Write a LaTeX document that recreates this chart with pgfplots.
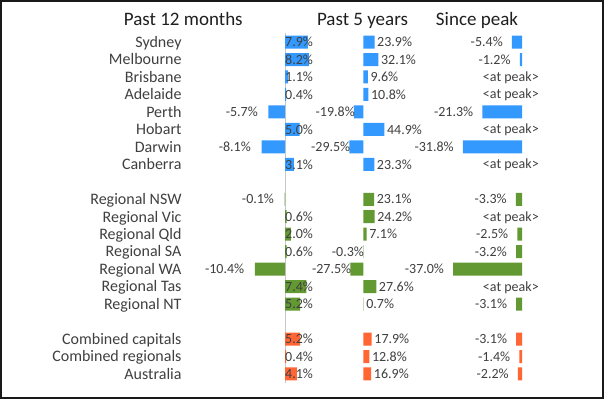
\documentclass[border=0pt]{standalone}
\usepackage{pgfplots}
\pgfplotsset{compat=1.18}
\usepackage{pgfplotstable}
\usepackage{fontspec}
\setmainfont{Carlito}
\definecolor{cblue}{RGB}{51,153,255}
\definecolor{cgreen}{RGB}{99,153,50}
\definecolor{corange}{RGB}{255,102,51}
\definecolor{txt}{RGB}{64,64,64}
\newcommand\catfont{\fontsize{16}{18}\selectfont}
\newcommand\valfont{\fontsize{14}{16}\selectfont}
\newcommand\titfont{\fontsize{19}{22}\selectfont}

\pgfplotstableread{
y m12 y5 pk
0 7.9 23.9 -5.4
1 8.2 32.1 -1.2
2 1.1 9.6 nan
3 0.4 10.8 nan
4 -5.7 -19.8 -21.3
5 5.0 44.9 nan
6 -8.1 -29.5 -31.8
7 3.1 23.3 nan
}\capitals
\pgfplotstableread{
y m12 y5 pk
9 -0.1 23.1 -3.3
10 0.6 24.2 nan
11 2.0 7.1 -2.5
12 0.6 -0.3 -3.2
13 -10.4 -27.5 -37.0
14 7.4 27.6 nan
15 5.2 0.7 -3.1
}\regional
\pgfplotstableread{
y m12 y5 pk
17 5.2 17.9 -3.1
18 0.4 12.8 -1.4
19 4.1 16.9 -2.2
}\combined

\pgfplotsset{
  panel/.style={clip=false, y dir=reverse, ymin=-0.5, ymax=19.5, y=17.47pt, anchor=north west},
  barplot/.style={xbar, bar width=13pt, bar shift=0pt, draw=none, fill=#1},
  lab/.style 2 args={
    nodes near coords={\pgfmathprintnumber[fixed,fixed zerofill,precision=1,assume math mode=true]{\pgfplotspointmeta}\%},
    nodes near coords align=horizontal,
    every node near coord/.append style={font=\valfont, text=txt, inner ysep=0pt, inner xsep=#2, xshift=#1}},
  labplot/.style={xbar, bar width=0pt, bar shift=0pt, draw=none, fill=none, forget plot},
}

\begin{document}
\begin{tikzpicture}
\useasboundingbox (0,0) rectangle (604pt,399pt);
\fill[white] (0,0) rectangle (604pt,399pt);

% Panel 1: past 12 months
\begin{axis}[panel, at={(183.5pt,365.7pt)}, x=2.9pt, xmin=-35, xmax=12,
  axis line style={draw=none}, tick style={draw=none}, xtick=\empty,
  ytick={0,1,2,3,4,5,6,7,9,10,11,12,13,14,15,17,18,19},
  yticklabels={Sydney,Melbourne,Brisbane,Adelaide,Perth,Hobart,Darwin,Canberra,Regional NSW,Regional Vic,Regional Qld,Regional SA,Regional WA,Regional Tas,Regional NT,Combined capitals,Combined regionals,Australia},
  yticklabel style={font=\catfont, text=txt, anchor=base east, inner sep=0pt, xshift=-1.8pt, yshift=-5.3pt}]
\draw[black!22, line width=0.8pt] (axis cs:0,-0.5) -- (axis cs:0,19.5);
\addplot[barplot=cblue] table[x=m12,y=y]{\capitals};
\addplot[barplot=cgreen] table[x=m12,y=y]{\regional};
\addplot[barplot=corange] table[x=m12,y=y]{\combined};
\addplot[labplot, point meta={\thisrow{m12}}, lab={-5.25pt}{5.25pt}] table[x expr={min(\thisrow{m12},0)},y=y]{\capitals};
\addplot[labplot, point meta={\thisrow{m12}}, lab={-5.25pt}{5.25pt}] table[x expr={min(\thisrow{m12},0)},y=y]{\regional};
\addplot[labplot, point meta={\thisrow{m12}}, lab={-5.25pt}{5.25pt}] table[x expr={min(\thisrow{m12},0)},y=y]{\combined};
\node[font=\titfont, text=black!88, anchor=base] at (axis cs:-35.07,-0.933) {Past 12 months};
\end{axis}

% Panel 2: past 5 years
\begin{axis}[panel, at={(344.5pt,365.7pt)}, x=0.47pt, xmin=-40, xmax=60, hide axis]
\addplot[barplot=cblue, point meta=x, lab={1.75pt}{0.75pt}] table[x=y5,y=y]{\capitals};
\addplot[barplot=cgreen, point meta=x, lab={1.75pt}{0.75pt}] table[x=y5,y=y]{\regional};
\addplot[barplot=corange, point meta=x, lab={1.75pt}{0.75pt}] table[x=y5,y=y]{\combined};
\node[font=\titfont, text=black!88, anchor=base] at (axis cs:-1.7,-0.933) {Past 5 years};
\end{axis}

% Panel 3: since peak
\begin{axis}[panel, at={(447.6pt,365.7pt)}, x=1.86pt, xmin=-40, xmax=5, hide axis]
\addplot[barplot=cblue, point meta=x, lab={-9pt}{0pt}] table[x=pk,y=y]{\capitals};
\addplot[barplot=cgreen, point meta=x, lab={-9pt}{0pt}] table[x=pk,y=y]{\regional};
\addplot[barplot=corange, point meta=x, lab={-9pt}{0pt}] table[x=pk,y=y]{\combined};
\node[font=\titfont, text=black!88, anchor=base] at (axis cs:-24.2,-0.933) {Since peak};
\node[font=\valfont, text=txt, anchor=base west, inner sep=0pt, yshift=-4.5pt] at (axis cs:-21.1,2) {<at peak>};
\node[font=\valfont, text=txt, anchor=base west, inner sep=0pt, yshift=-4.5pt] at (axis cs:-21.1,3) {<at peak>};
\node[font=\valfont, text=txt, anchor=base west, inner sep=0pt, yshift=-4.5pt] at (axis cs:-21.1,5) {<at peak>};
\node[font=\valfont, text=txt, anchor=base west, inner sep=0pt, yshift=-4.5pt] at (axis cs:-21.1,7) {<at peak>};
\node[font=\valfont, text=txt, anchor=base west, inner sep=0pt, yshift=-4.5pt] at (axis cs:-21.1,10) {<at peak>};
\node[font=\valfont, text=txt, anchor=base west, inner sep=0pt, yshift=-4.5pt] at (axis cs:-21.1,14) {<at peak>};
\end{axis}

\draw[black!90, line width=1.6pt] (0.8pt,0.8pt) rectangle (603.2pt,398.2pt);
\end{tikzpicture}
\end{document}
